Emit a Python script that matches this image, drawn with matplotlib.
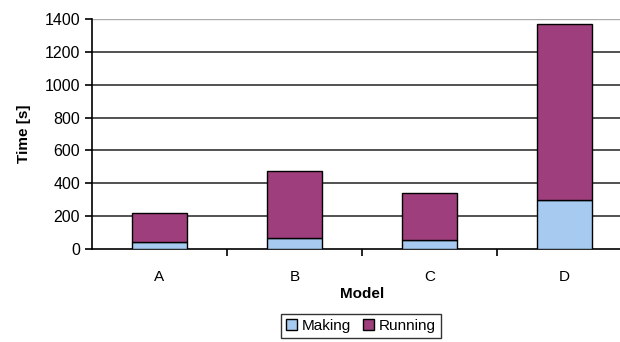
import numpy as np
import matplotlib.pyplot as plt

plt.rcParams['font.family'] = ['Liberation Sans', 'DejaVu Sans']

models = ['A', 'B', 'C', 'D']
making = [45, 65, 57, 300]
running = [175, 410, 283, 1070]
yticks = [0, 200, 400, 600, 800, 1000, 1200, 1400]

fig = plt.figure(figsize=(6.2, 3.42), dpi=100)
ax = fig.add_axes([92 / 620, 1 - 249 / 342, 540 / 620, 230 / 342])

x = np.arange(len(models))
ax.bar(x, making, width=0.41, color='#A6CAF0', edgecolor='black', linewidth=1, label='Making', zorder=3)
ax.bar(x, running, width=0.41, bottom=making, color='#9E3E7C', edgecolor='black', linewidth=1, label='Running', zorder=3)

ax.set_xlim(-0.5, 3.5)
ax.set_ylim(0, 1400)
ax.set_yticks(yticks)
for v in yticks[1:-1]:
    ax.axhline(v, color='#333333', linewidth=1.2, zorder=1)
ax.axhline(1400, color='#aaaaaa', linewidth=1, zorder=1)

ax.set_xticks(x)
ax.set_xticklabels(models)
ax.set_xticks(np.arange(0.5, 3.5, 1), minor=True)
ax.tick_params(axis='x', which='major', length=0, pad=15, labelsize=11)
ax.tick_params(axis='x', which='minor', length=5, width=1.2, direction='out')
ax.tick_params(axis='y', length=5, width=1.2, direction='out', labelsize=11.5)

for s in ['top', 'right']:
    ax.spines[s].set_visible(False)
ax.spines['left'].set_linewidth(1.2)
ax.spines['bottom'].set_linewidth(1.2)

ax.set_ylabel('Time [s]', fontweight='bold', fontsize=11, labelpad=10)
ax.set_xlabel('Model', fontweight='bold', fontsize=11, labelpad=2)

leg = fig.legend(loc='center', bbox_to_anchor=(361 / 620, 1 - 326 / 342), ncol=2,
                 frameon=True, fancybox=False, edgecolor='black', fontsize=11,
                 handlelength=0.7, handleheight=0.7, handletextpad=0.3, columnspacing=0.8,
                 borderpad=0.35)
leg.get_frame().set_linewidth(1)

fig.savefig('out.png', dpi=100)
